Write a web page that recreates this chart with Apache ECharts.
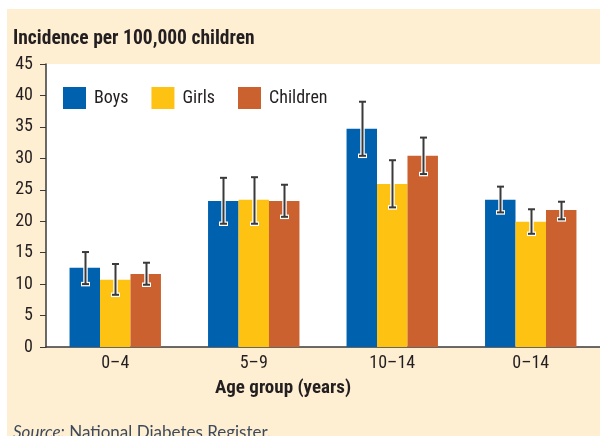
<!DOCTYPE html>
<html>
<head>
<meta charset="utf-8">
<script src="https://cdn.jsdelivr.net/npm/echarts@6/dist/echarts.min.js"></script>
<style>
  html, body { margin: 0; padding: 0; background: #fff; }
  #main { width: 600px; height: 436px; }
</style>
</head>
<body>
<div id="main"></div>
<script>
// data
var ageGroups = ['0–4', '5–9', '10–14', '0–14']
var seriesNames = ['Boys', 'Girls', 'Children']
var boys = [12.6, 23.2, 34.7, 23.4]
var girls = [10.7, 23.4, 25.9, 19.9]
var children = [11.6, 23.2, 30.4, 21.8]
var boysLow = [10.0, 19.6, 30.4, 21.4]
var boysHigh = [15.1, 26.9, 39.0, 25.5]
var girlsLow = [8.3, 19.6, 22.2, 18.0]
var girlsHigh = [13.2, 27.0, 29.7, 21.9]
var childrenLow = [9.9, 20.7, 27.5, 20.3]
var childrenHigh = [13.4, 25.8, 33.3, 23.1]
var yTicks = [0, 45, 5]   // min, max, interval

var colors = ['#0061ae', '#fdc212', '#cb612e']
var font = "'Roboto Condensed', 'Liberation Sans', sans-serif"
var catGap = 0.34

function errData(low, high) {
    return ageGroups.map(function (g, i) { return [i, low[i], high[i]] })
}

function errSeries(name, idx, low, high) {
    return {
        name: name + ' range',
        type: 'custom',
        z: 10,
        silent: true,
        encode: { x: 0, y: [1, 2] },
        data: errData(low, high),
        renderItem: function (params, api) {
            var band = api.size([1, 0])[0]
            var bw = band * (1 - catGap) / 3
            var top = api.coord([api.value(0), api.value(2)])
            var bot = api.coord([api.value(0), api.value(1)])
            var x = Math.round(top[0] + (idx - 1) * bw) + 0.5
            var cap = 3.5
            var halo = { stroke: '#ffffff', lineWidth: 4.5 }
            var dark = { stroke: '#3a3a3a', lineWidth: 2 }
            return {
                type: 'group',
                children: [
                    { type: 'line', shape: { x1: x, y1: top[1], x2: x, y2: bot[1] }, style: halo },
                    { type: 'line', shape: { x1: x - cap - 1, y1: top[1], x2: x + cap + 1, y2: top[1] }, style: halo },
                    { type: 'line', shape: { x1: x - cap - 1, y1: bot[1], x2: x + cap + 1, y2: bot[1] }, style: halo },
                    { type: 'line', shape: { x1: x, y1: top[1], x2: x, y2: bot[1] }, style: dark },
                    { type: 'line', shape: { x1: x - cap, y1: top[1], x2: x + cap, y2: top[1] }, style: dark },
                    { type: 'line', shape: { x1: x - cap, y1: bot[1], x2: x + cap, y2: bot[1] }, style: dark }
                ]
            }
        }
    }
}

var chart = echarts.init(document.getElementById('main'))
chart.setOption({
    backgroundColor: '#ffffff',
    animation: false,
    color: colors,
    textStyle: { fontFamily: font, color: '#231f20' },
    graphic: [
        { type: 'rect', z: -10, silent: true, shape: { x: 7, y: 9, width: 593, height: 427 }, style: { fill: '#feefd3' } },
        { type: 'rect', z: -9, silent: true, shape: { x: 46, y: 64, width: 554, height: 283 }, style: { fill: '#ffffff' } }
    ],
    title: [{
        text: 'Incidence per 100,000 children',
        left: 13, top: 29, padding: 0,
        textStyle: { fontFamily: font, fontSize: 19.5, fontWeight: 'bold', color: '#231f20' }
    }, {
        text: 'Age group (years)',
        left: 283, top: 379, textAlign: 'center', padding: 0,
        textStyle: { fontFamily: font, fontSize: 19, fontWeight: 'bold', color: '#231f20' }
    }, {
        text: '{i|Source:} National Diabetes Register.',
        left: 13, top: 424, padding: 0,
        textStyle: {
            fontFamily: 'Lato', fontSize: 17, fontWeight: 'normal', color: '#3d4a5c',
            rich: { i: { fontFamily: 'Lato', fontSize: 17, fontStyle: 'italic', color: '#3d4a5c' } }
        }
    }],
    legend: {
        data: seriesNames,
        left: 63, top: 87, padding: 0,
        itemWidth: 23, itemHeight: 22, itemGap: 23,
        icon: 'rect',
        textStyle: { fontFamily: font, fontSize: 18, color: '#231f20', padding: [0, 0, 0, 3] }
    },
    grid: { left: 46, right: 0, top: 64, bottom: 89, outerBoundsMode: 'none' },
    xAxis: {
        type: 'category',
        data: ageGroups,
        axisLine: { lineStyle: { color: '#3a3a3a', width: 1.5 } },
        axisTick: { show: false },
        axisLabel: { fontFamily: font, fontSize: 18, color: '#231f20', margin: 7 }
    },
    yAxis: {
        type: 'value',
        min: yTicks[0], max: yTicks[1], interval: yTicks[2],
        splitLine: { show: false },
        axisLine: { show: true, lineStyle: { color: '#3a3a3a', width: 1.5 } },
        axisTick: { show: true, length: 6, lineStyle: { color: '#3a3a3a', width: 1 } },
        axisLabel: { fontFamily: font, fontSize: 18, color: '#231f20', margin: 13 }
    },
    series: [
        { name: seriesNames[0], type: 'bar', data: boys, barGap: 0, barCategoryGap: '34%' },
        { name: seriesNames[1], type: 'bar', data: girls, barGap: 0, barCategoryGap: '34%' },
        { name: seriesNames[2], type: 'bar', data: children, barGap: 0, barCategoryGap: '34%' },
        errSeries(seriesNames[0], 0, boysLow, boysHigh),
        errSeries(seriesNames[1], 1, girlsLow, girlsHigh),
        errSeries(seriesNames[2], 2, childrenLow, childrenHigh)
    ]
})
</script>
</body>
</html>
